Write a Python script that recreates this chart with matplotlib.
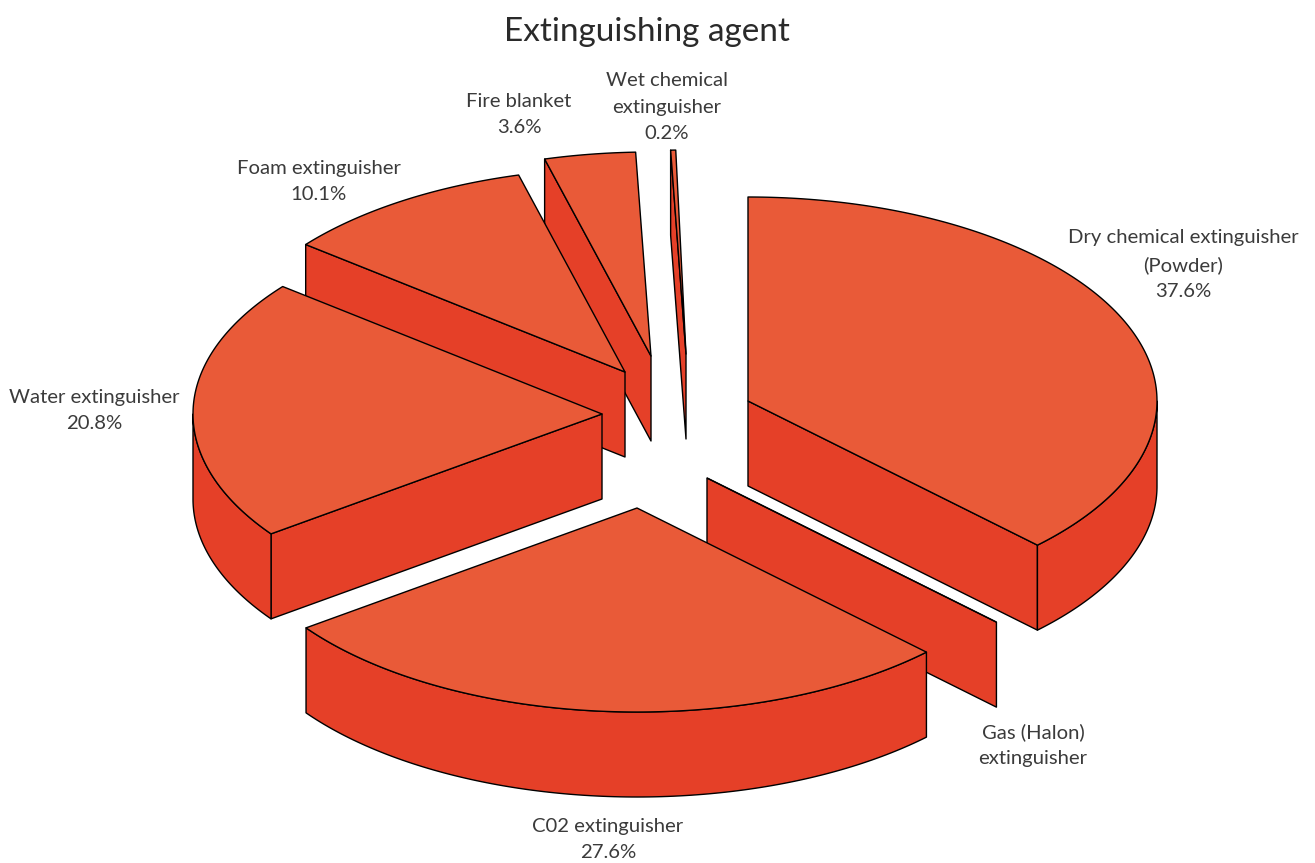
import numpy as np
import matplotlib
matplotlib.use("Agg")
import matplotlib.pyplot as plt

labels = ["Dry chemical\u00a0extinguisher\n(Powder)\n37.6%", "Gas (Halon)\nextinguisher", "C02 extinguisher\n27.6%",
          "Water extinguisher\n20.8%", "Foam extinguisher\n10.1%", "Fire blanket\n3.6%",
          "Wet chemical\nextinguisher\n0.2%"]
values = [37.6, 0.0, 27.6, 20.8, 10.1, 3.6, 0.2]
# the drawn circle is a little more than the labelled shares add up to
full_scale = 100.3

# layout, in pixels of the 1315x863 canvas
center = (680, 430)
rx, ry, depth = 409, 204, 85
offset_x = [68, 27, -43, -78, -55, -29, 6]
offset_y = [-29, 48, 78, -16, -58, -74, -76]
label_x = [1183, 1033, 608, 94, 319, 519, 667]
label_y = [264.5, 745, 839.5, 410.5, 181.5, 114.5, 107]
draw_order = [6, 5, 4, 3, 1, 0, 2]

top_color = "#E95A38"
side_color = "#E54028"
text_color = "#3b3b3b"
plt.rcParams["font.family"] = ["Lato", "DejaVu Sans"]


def rim_xy(angles, ax0, ay0):
    # angles run clockwise from 12 o'clock
    a = np.radians(angles)
    return ax0 + rx * np.sin(a), ay0 - ry * np.cos(a)


def face(ax, xs, ys, color):
    ax.fill(xs, ys, facecolor=color, edgecolor="black", linewidth=1.0, joinstyle="round")


fig = plt.figure(figsize=(13.15, 8.63), dpi=100)
ax = fig.add_axes([0, 0, 1, 1])
ax.set_xlim(0, 1315)
ax.set_ylim(863, 0)
ax.axis("off")

ends = np.cumsum(values) / full_scale * 360
starts = ends - np.array(values) / full_scale * 360

for i in draw_order:
    a0, a1 = starts[i], ends[i]
    ax0, ay0 = center[0] + offset_x[i], center[1] + offset_y[i]

    # cut faces, only those turned towards the viewer
    if np.sin(np.radians(a0)) < 0:
        ex, ey = rim_xy(a0, ax0, ay0)
        face(ax, [ax0, ex, ex, ax0], [ay0, ey, ey + depth, ay0 + depth], side_color)
    if np.sin(np.radians(a1)) > 0:
        ex, ey = rim_xy(a1, ax0, ay0)
        face(ax, [ax0, ex, ex, ax0], [ay0, ey, ey + depth, ay0 + depth], side_color)

    # outer wall, front half of the ellipse
    w0, w1 = max(a0, 90), min(a1, 270)
    if w1 > w0:
        t = np.linspace(w0, w1, 120)
        xs, ys = rim_xy(t, ax0, ay0)
        face(ax, np.r_[xs, xs[::-1]], np.r_[ys, ys[::-1] + depth], side_color)

    # top face
    t = np.linspace(a0, a1, 200)
    xs, ys = rim_xy(t, ax0, ay0)
    face(ax, np.r_[ax0, xs], np.r_[ay0, ys], top_color)

for text, x, y in zip(labels, label_x, label_y):
    ax.text(x, y, text, ha="center", va="center", fontsize=14.6, color=text_color, linespacing=1.66)

ax.text(646.5, 32, "Extinguishing agent", ha="center", va="center", fontsize=24, color="#2a2a2a")

fig.savefig("out.png", dpi=100)
